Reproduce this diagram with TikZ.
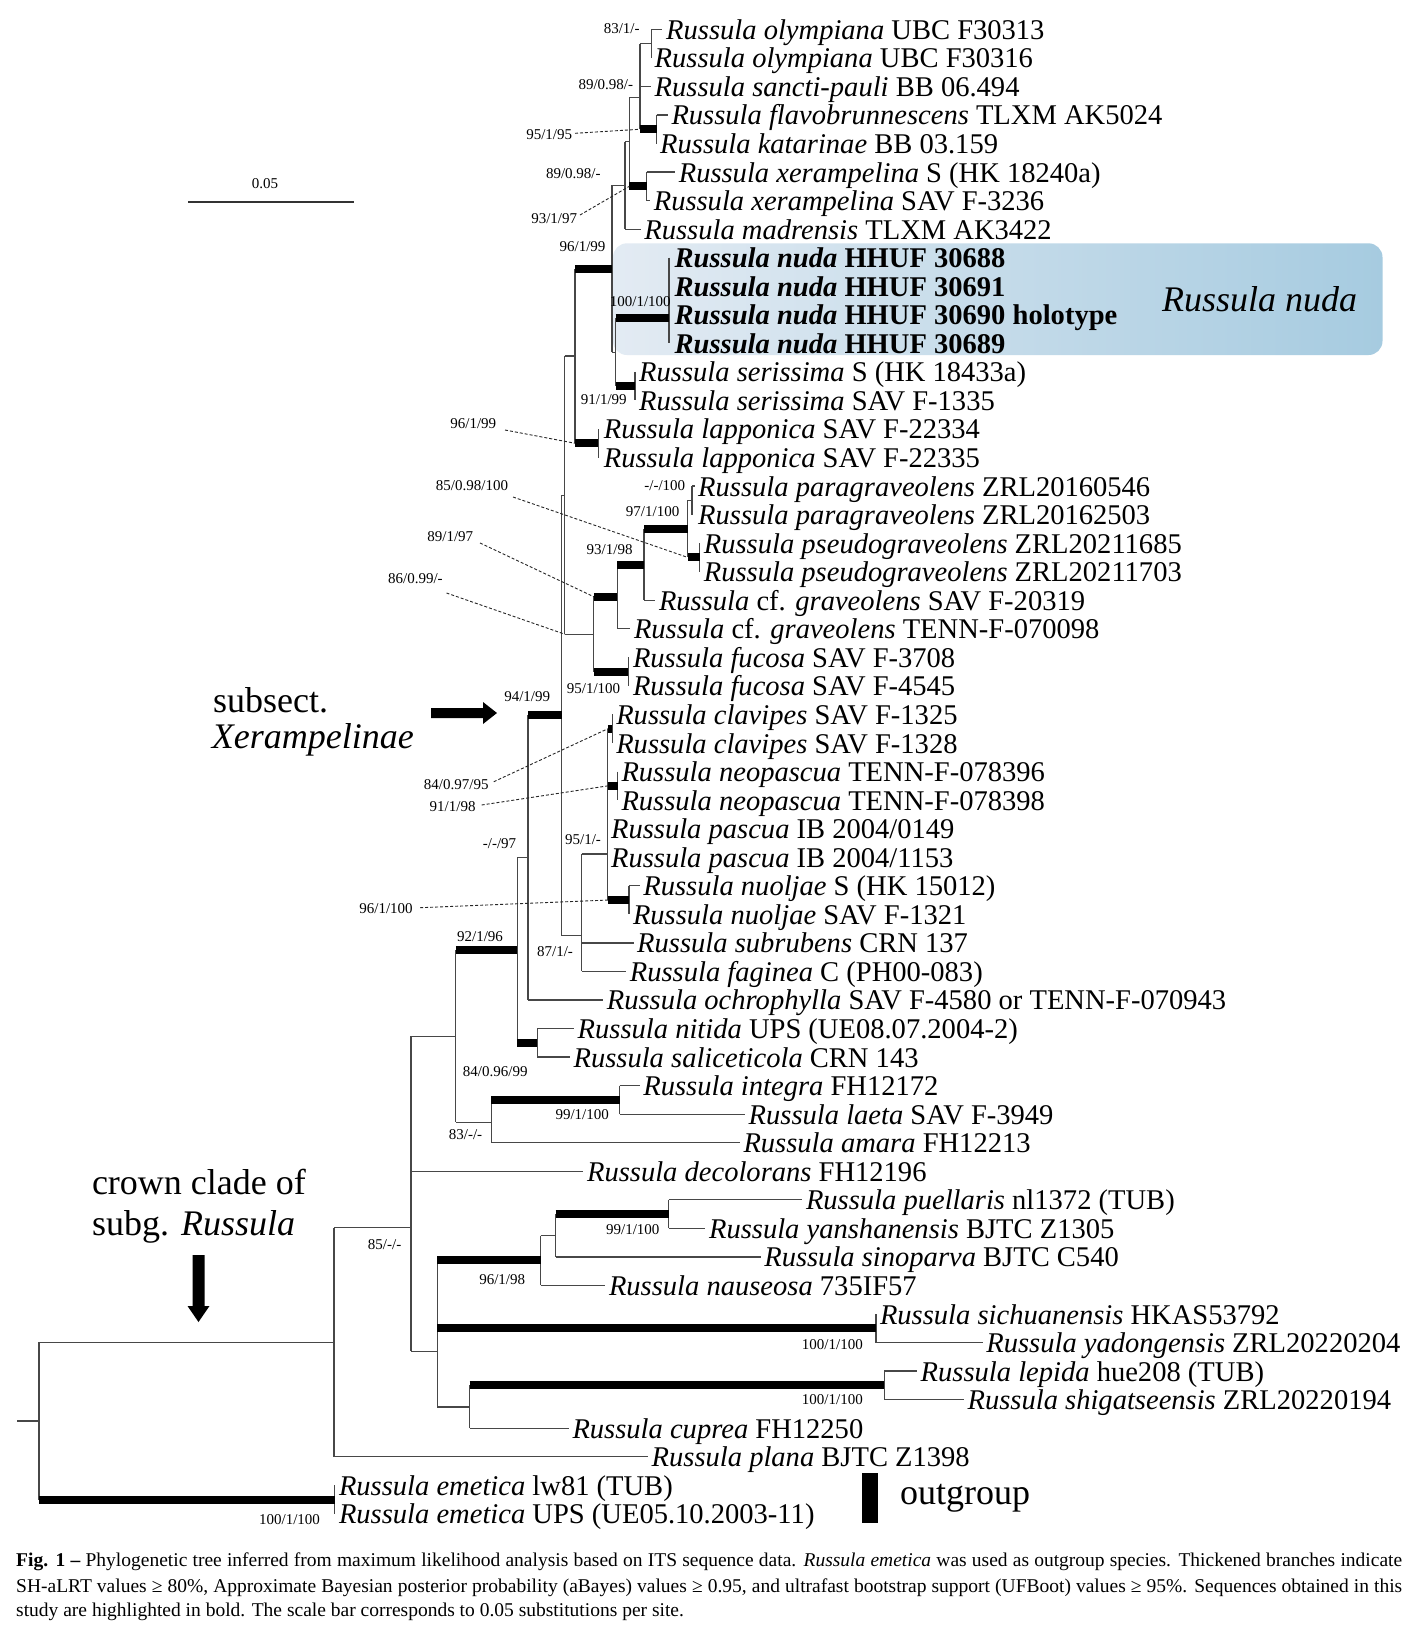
\documentclass[tikz,border=0pt]{standalone}
\usepackage{fontspec}
\setmainfont{Liberation Serif}
\tikzset{
  branch/.style={draw=black!72, line width=1.3pt},
  thickbr/.style={draw=black, line width=8pt},
  leader/.style={draw=black!85, line width=0.9pt, dash pattern=on 3pt off 2pt},
  leaflab/.style={anchor=base west, inner sep=0pt, font=\fontsize{28.55}{30}\selectfont},
  sup/.style={inner sep=1pt, font=\fontsize{15}{16}\selectfont},
  big/.style={inner sep=0pt, anchor=base west, font=\fontsize{36}{40}\selectfont},
  captext/.style={inner sep=0pt, anchor=base west, font=\fontsize{19.5}{22}\selectfont},
}
\newcommand\RY[1]{(23.3+28.65*(#1))}
\newcommand\leaf[4]{\coordinate (t#1) at (#2,{\RY{#1}}); \node[leaflab] (l#1) at (#3,{\RY{#1}+10}) {#4};}
\newcommand\R[1]{\textit{Russula #1}}
\newcommand\RB[1]{\textbf{\textit{Russula nuda} HHUF #1}}
\newcommand\hb[3][branch]{\draw[#1] (#2 |- #3) -- (#3);}
\newcommand\vb[3]{\draw[branch] (#1 |- #2) -- (#1 |- #3);}
\begin{document}
\begin{tikzpicture}[x=1pt,y=-1pt]
\fill[white] (0,0) rectangle (1426,1634);
\useasboundingbox (0,0) rectangle (1426,1634);
% highlight box
\node[rounded corners=14pt, left color={rgb,255:red,227;green,235;blue,243}, right color={rgb,255:red,166;green,203;blue,224}, minimum width=769.5pt, minimum height=111.7pt, inner sep=0pt] (nudabox) at (997.75,299.15) {};
\node[big, font=\fontsize{36}{40}\selectfont\itshape] (nudalab) at (1161.8,311) {Russula nuda};
\begin{scope}[shift={(0,6.08)}, yscale=0.99651]
% leaves
\leaf{0}{662}{666}{\R{olympiana} UBC F30313}
\leaf{1}{651.7}{654.5}{\R{olympiana} UBC F30316}
\leaf{2}{650.5}{654.5}{\R{sancti-pauli} BB 06.494}
\leaf{3}{667.5}{671.3}{\R{flavobrunnescens} TLXM AK5024}
\leaf{4}{656.7}{660}{\R{katarinae} BB 03.159}
\leaf{5}{674.5}{678.6}{\R{xerampelina} S (HK 18240a)}
\leaf{6}{650}{653.6}{\R{xerampelina} SAV F-3236}
\leaf{7}{640.5}{644.2}{\R{madrensis} TLXM AK3422}
\leaf{8}{669}{674.5}{\RB{30688}}
\leaf{9}{669}{674.5}{\RB{30691}}
\leaf{10}{669}{674.5}{\RB{30690 holotype}}
\leaf{11}{669}{674.5}{\RB{30689}}
\leaf{12}{635}{639}{\R{serissima} S (HK 18433a)}
\leaf{13}{635}{639}{\R{serissima} SAV F-1335}
\leaf{14}{598.3}{603.6}{\R{lapponica} SAV F-22334}
\leaf{15}{598.3}{603.6}{\R{lapponica} SAV F-22335}
\leaf{16}{694.5}{698}{\R{paragraveolens} ZRL20160546}
\leaf{17}{692}{698}{\R{paragraveolens} ZRL20162503}
\leaf{18}{699.8}{703.7}{\R{pseudograveolens} ZRL20211685}
\leaf{19}{699.8}{703.7}{\R{pseudograveolens} ZRL20211703}
\leaf{20}{655}{658.8}{\textit{Russula} cf. \textit{graveolens} SAV F-20319}
\leaf{21}{630}{633.8}{\textit{Russula} cf. \textit{graveolens} TENN-F-070098}
\leaf{22}{628.2}{632.8}{\R{fucosa} SAV F-3708}
\leaf{23}{628.2}{632.8}{\R{fucosa} SAV F-4545}
\leaf{24}{612.4}{616.1}{\R{clavipes} SAV F-1325}
\leaf{25}{612.4}{616.1}{\R{clavipes} SAV F-1328}
\leaf{26}{617.7}{621.3}{\R{neopascua} TENN-F-078396}
\leaf{27}{617.7}{621.3}{\R{neopascua} TENN-F-078398}
\leaf{28}{607.8}{610.9}{\R{pascua} IB 2004/0149}
\leaf{29}{607.8}{610.9}{\R{pascua} IB 2004/1153}
\leaf{30}{639.5}{643.2}{\R{nuoljae} S (HK 15012)}
\leaf{31}{628.9}{632.8}{\R{nuoljae} SAV F-1321}
\leaf{32}{633.5}{637}{\R{subrubens} CRN 137}
\leaf{33}{626}{629.7}{\R{faginea} C (PH00-083)}
\leaf{34}{603}{606.7}{\R{ochrophylla} SAV F-4580 or TENN-F-070943}
\leaf{35}{573.5}{577.5}{\R{nitida} UPS (UE08.07.2004-2)}
\leaf{36}{569.5}{573.4}{\R{saliceticola} CRN 143}
\leaf{37}{639.5}{643.2}{\R{integra} FH12172}
\leaf{38}{745}{748.5}{\R{laeta} SAV F-3949}
\leaf{39}{740}{743.3}{\R{amara} FH12213}
\leaf{40}{583}{586.9}{\R{decolorans} FH12196}
\leaf{41}{802}{805.8}{\R{puellaris} nl1372 (TUB)}
\leaf{42}{705}{708.9}{\R{yanshanensis} BJTC Z1305}
\leaf{43}{760.5}{764.1}{\R{sinoparva} BJTC C540}
\leaf{44}{605}{608.8}{\R{nauseosa} 735IF57}
\leaf{45}{876}{879.8}{\R{sichuanensis} HKAS53792}
\leaf{46}{982.5}{986.2}{\R{yadongensis} ZRL20220204}
\leaf{47}{917}{920.5}{\R{lepida} hue208 (TUB)}
\leaf{48}{963.5}{967.4}{\R{shigatseensis} ZRL20220194}
\leaf{49}{568.5}{572.3}{\R{cuprea} FH12250}
\leaf{50}{648}{651.5}{\R{plana} BJTC Z1398}
\leaf{51}{334.7}{338.8}{\R{emetica} lw81 (TUB)}
\leaf{52}{334.7}{338.8}{\R{emetica} UPS (UE05.10.2003-11)}
% internal nodes
\coordinate (nO) at (651.7,37.6);
\coordinate (nF) at (656.7,123.6);
\coordinate (nA) at (640,91.4);
\coordinate (nXE) at (646.7,180.9);
\coordinate (nB) at (629.3,136.1);
\coordinate (nC) at (625,180);
\coordinate (nNU) at (669,313.4);
\coordinate (nSE) at (635,381.4);
\coordinate (nN) at (615.7,347.4);
\coordinate (nP) at (612,263.7);
\coordinate (nLA) at (598.3,438.7);
\coordinate (nQ) at (575,351.2);
\coordinate (nK) at (692,496);
\coordinate (nPS) at (699.8,553.3);
\coordinate (nJ) at (687.8,524.7);
\coordinate (nI) at (644,560.5);
\coordinate (nH) at (617.3,592.7);
\coordinate (nFU) at (628.2,667.9);
\coordinate (nG) at (593.8,630.3);
\coordinate (nU) at (564.7,490.8);
\coordinate (nCL) at (612.4,725.2);
\coordinate (nNE) at (617.7,782.5);
\coordinate (nNO) at (628.9,897.1);
\coordinate (nM) at (607.8,851);
\coordinate (nL) at (581.7,933);
\coordinate (nX) at (561.5,711.9);
\coordinate (nY) at (528,854.7);
\coordinate (nNI) at (537.3,1040.4);
\coordinate (nZ) at (517.3,947.5);
\coordinate (nIN) at (619.6,1097.7);
\coordinate (nV) at (491.4,1120.3);
\coordinate (nW) at (455.8,1033.9);
\coordinate (nPY) at (668.7,1212.3);
\coordinate (nNA2) at (555.6,1233.8);
\coordinate (nNA) at (540.7,1258.8);
\coordinate (nSI) at (876,1326.9);
\coordinate (nLE) at (884.3,1384.2);
\coordinate (nLE2) at (469.5,1405.7);
\coordinate (nE) at (437.4,1350);
\coordinate (nD) at (411,1225.8);
\coordinate (nCR) at (334,1340.8);
\coordinate (nOG) at (334.7,1498.8);
\coordinate (nR) at (39,1419.8);
\coordinate (rootend) at (17,1419.8);
% verticals
\vb{nO}{t0}{t1} \vb{nF}{t3}{t4} \vb{nA}{nO}{nF} \vb{nXE}{t5}{t6}
\vb{nB}{nA}{nXE} \vb{nC}{nB}{t7} \vb{nNU}{t8}{t11} \vb{nSE}{t12}{t13}
\vb{nN}{nNU}{nSE} \vb{nP}{nC}{nN} \vb{nLA}{t14}{t15} \vb{nQ}{nP}{nLA}
\vb{nK}{t16}{t17} \vb{nPS}{t18}{t19} \vb{nJ}{nK}{nPS} \vb{nI}{nJ}{t20}
\vb{nH}{nI}{t21} \vb{nFU}{t22}{t23} \vb{nG}{nH}{nFU} \vb{nU}{nQ}{nG}
\vb{nCL}{t24}{t25} \vb{nNE}{t26}{t27} \vb{nNO}{t30}{t31} \vb{nM}{nCL}{nNO}
\vb{nL}{nM}{t33} \vb{nX}{nU}{nL} \vb{nY}{nX}{t34} \vb{nNI}{t35}{t36}
\vb{nZ}{nY}{nNI} \vb{nIN}{t37}{t38} \vb{nV}{nIN}{t39} \vb{nW}{nZ}{nV}
\vb{nPY}{t41}{t42} \vb{nNA2}{nPY}{t43} \vb{nNA}{nNA2}{t44} \vb{nSI}{t45}{t46}
\vb{nLE}{t47}{t48} \vb{nLE2}{nLE}{t49} \vb{nE}{nNA}{nLE2} \vb{nD}{nW}{nE}
\vb{nCR}{nD}{t50} \vb{nOG}{t51}{t52} \vb{nR}{nCR}{nOG}
% thin horizontals
\hb{nO}{t0} \hb{nA}{nO} \hb{nA}{t2} \hb{nF}{t3} \hb{nXE}{t5} \hb{nXE}{t6}
\hb{nB}{nA} \hb{nC}{nB} \hb{nC}{t7} \hb{nP}{nC} \hb{nP}{nN}
\hb{nU}{nQ} \hb{nK}{t16} \hb{nJ}{nK} \hb{nI}{t20} \hb{nH}{t21} \hb{nU}{nG}
\hb{nX}{nU} \hb{nL}{nM} \hb{nL}{t32} \hb{nL}{t33} \hb{nX}{nL} \hb{nY}{t34}
\hb{nZ}{nY} \hb{nNO}{t30} \hb{nNI}{t35} \hb{nNI}{t36} \hb{nIN}{t37} \hb{nIN}{t38}
\hb{nV}{t39} \hb{nW}{nV} \hb{nD}{nW} \hb{nD}{t40} \hb{nPY}{t41} \hb{nPY}{t42}
\hb{nNA2}{t43} \hb{nNA}{nNA2} \hb{nNA}{t44} \hb{nSI}{t46} \hb{nLE}{t47} \hb{nLE}{t48}
\hb{nLE2}{t49} \hb{nE}{nLE2} \hb{nD}{nE} \hb{nCR}{nD} \hb{nCR}{t50} \hb{nR}{nCR}
\draw[branch] (rootend) -- (nR);
% thick horizontals
\hb[thickbr]{nA}{nF} \hb[thickbr]{nB}{nXE} \hb[thickbr]{nN}{nNU} \hb[thickbr]{nN}{nSE}
\hb[thickbr]{nQ}{nP} \hb[thickbr]{nQ}{nLA} \hb[thickbr]{nJ}{nPS} \hb[thickbr]{nI}{nJ}
\hb[thickbr]{nH}{nI} \hb[thickbr]{nG}{nH} \hb[thickbr]{nG}{nFU} \hb[thickbr]{nM}{nCL}
\hb[thickbr]{nM}{nNE} \hb[thickbr]{nM}{nNO} \hb[thickbr]{nY}{nX} \hb[thickbr]{nZ}{nNI}
\hb[thickbr]{nW}{nZ} \hb[thickbr]{nV}{nIN} \hb[thickbr]{nNA2}{nPY} \hb[thickbr]{nE}{nNA}
\hb[thickbr]{nE}{nSI} \hb[thickbr]{nLE2}{nLE} \hb[thickbr]{nR}{nOG}
\end{scope}
% support labels
\node[sup] (s1) at (621.7,28.3) {83/1/-};
\node[sup] (s2) at (605.8,85) {89/0.98/-};
\node[sup] (s3) at (549.2,135) {95/1/95};
\node[sup] (s4) at (573.3,173.3) {89/0.98/-};
\node[sup] (s5) at (554.2,218.3) {93/1/97};
\node[sup] (s6) at (582.5,246.7) {96/1/99};
\node[sup] (s7) at (640.3,301.7) {100/1/100};
\node[sup] (s8) at (603.8,400) {91/1/99};
\node[sup] (s9) at (473.3,423.3) {96/1/99};
\node[sup] (s10) at (472,486) {85/0.98/100};
\node[sup] (s11) at (664.8,486) {-/-/100};
\node[sup] (s12) at (652.6,511.7) {97/1/100};
\node[sup] (s13) at (450.3,536.7) {89/1/97};
\node[sup] (s14) at (609.6,550) {93/1/98};
\node[sup] (s15) at (415.4,578.3) {86/0.99/-};
\node[sup] (s16) at (593.5,688.3) {95/1/100};
\node[sup] (s17) at (527.2,696.7) {94/1/99};
\node[sup] (s18) at (456.2,785) {84/0.97/95};
\node[sup] (s19) at (452.6,806.7) {91/1/98};
\node[sup] (s20) at (499.5,843.3) {-/-/97};
\node[sup] (s21) at (583,840) {95/1/-};
\node[sup] (s22) at (386,908.3) {96/1/100};
\node[sup] (s23) at (480,936.7) {92/1/96};
\node[sup] (s24) at (555,951.7) {87/1/-};
\node[sup] (s25) at (495.2,1071.7) {84/0.96/99};
\node[sup] (s26) at (582.2,1115) {99/1/100};
\node[sup] (s27) at (465.5,1135) {83/-/-};
\node[sup] (s28) at (384.6,1245) {85/-/-};
\node[sup] (s29) at (632.8,1229.3) {99/1/100};
\node[sup] (s30) at (502.2,1280) {96/1/98};
\node[sup] (s31) at (832.4,1345) {100/1/100};
\node[sup] (s32) at (832.4,1400) {100/1/100};
\node[sup] (s33) at (289.5,1520) {100/1/100};
% leader lines
\coordinate (d3) at (575,133.3); \coordinate (d5) at (580,215);
\coordinate (d9) at (505,430); \coordinate (d10) at (513,497);
\coordinate (d13) at (480,543); \coordinate (d15) at (446.5,593);
\coordinate (d18) at (493.8,781.7); \coordinate (d19) at (481.6,805);
\coordinate (d22) at (420.2,907.7);
\draw[leader] (d3) -- (nA |- nF);
\draw[leader] (d5) -- (nB |- nXE);
\draw[leader] (d9) -- (nQ |- nLA);
\draw[leader] (d10) -- (nJ |- nPS);
\draw[leader] (d13) -- (nG |- nH);
\draw[leader] (d15) -- (nU |- nG);
\draw[leader] (d18) -- (nM |- nCL);
\draw[leader] (d19) -- (nM |- nNE);
\draw[leader] (d22) -- (nM |- nNO);
% scale bar
\coordinate (sb1) at (188.3,201.7); \coordinate (sb2) at (354,201.7);
\draw[line width=2pt, black!80] (sb1) -- (sb2);
\node[sup] (sbl) at (265,183.3) {0.05};
% annotations
\fill[black] (431,708) -- (483,708) -- (483,702) -- (497,713) -- (483,724) -- (483,718) -- (431,718) -- cycle;
\node[big] (subsect) at (213,712) {subsect.};
\node[big] (xeram) at (211.7,748.5) {\textit{Xerampelinae}};
\node[big] (crown1) at (91.8,1194) {crown clade of};
\node[big] (crown2) at (91.8,1235.5) {subg. \textit{Russula}};
\fill[black] (192.5,1255) -- (204.5,1255) -- (204.5,1306) -- (209.5,1306) -- (198.5,1322) -- (187.5,1306) -- (192.5,1306) -- cycle;
\fill[black] (862,1472.7) rectangle (877.7,1523.3);
\node[big] (outg) at (900,1504) {outgroup};
% caption
\node[captext] (cap1) at (16,1566.5) {\makebox[1386pt][s]{\textbf{Fig. 1 –} Phylogenetic tree inferred from maximum likelihood analysis based on ITS sequence data. \textit{Russula emetica} was used as outgroup species. Thickened branches indicate}};
\node[captext] (cap2) at (16,1592) {\makebox[1386pt][s]{SH-aLRT values ≥ 80\%, Approximate Bayesian posterior probability (aBayes) values ≥ 0.95, and ultrafast bootstrap support (UFBoot) values ≥ 95\%. Sequences obtained in this}};
\node[captext] (cap3) at (16,1616) {study are highlighted in bold. The scale bar corresponds to 0.05 substitutions per site.};
\end{tikzpicture}
\end{document}
